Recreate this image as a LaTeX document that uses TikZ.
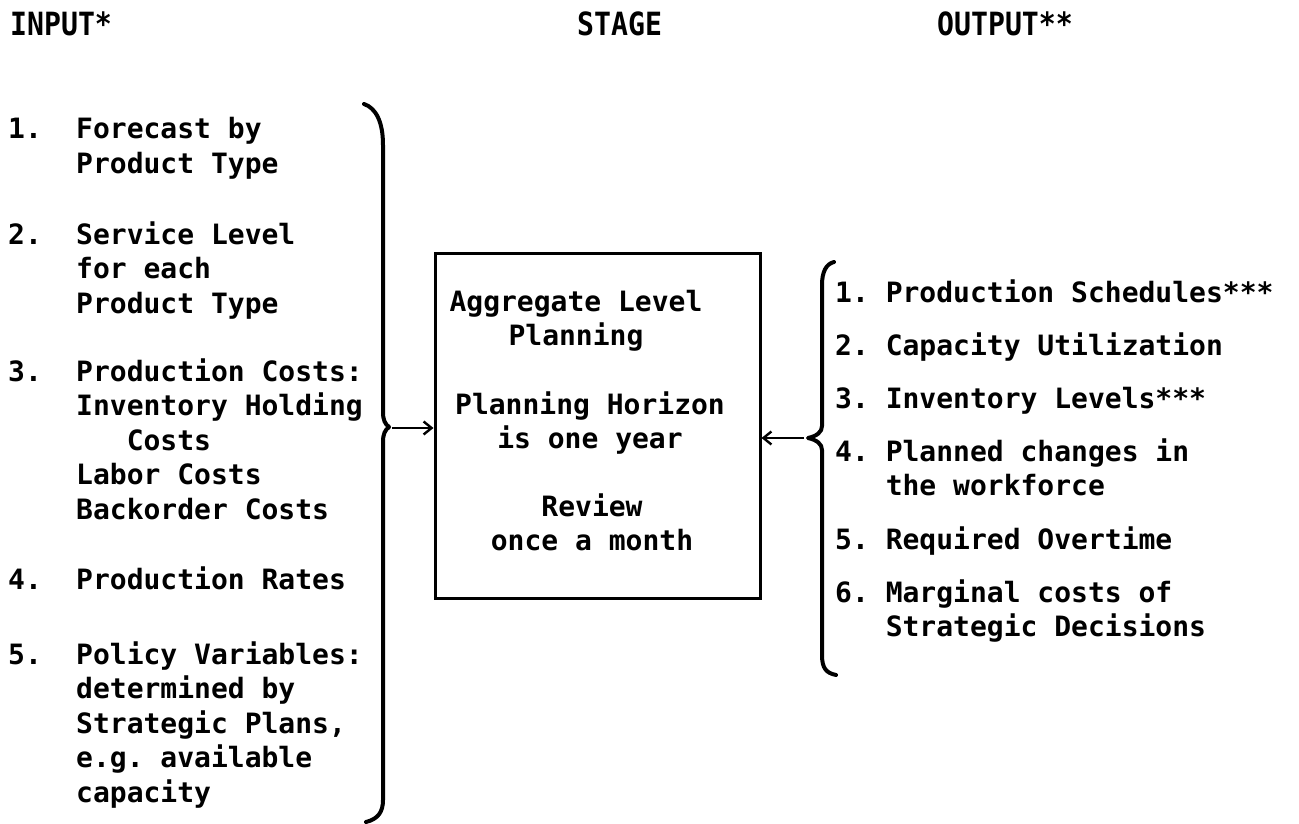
\documentclass[tikz,border=0pt]{standalone}
\usepackage{fontspec}
\usetikzlibrary{arrows.meta}
\newfontfamily\typer{DejaVu Sans Mono}
\newfontfamily\headface[FakeStretch=0.88]{DejaVu Sans Mono}
% typewriter spacing: every blank is one full character cell
\newcommand\cellspaces{\frenchspacing\spaceskip=\fontcharwd\font`M\relax\xspaceskip=\spaceskip}
% stacked typewritten lines, baseline on the first line
\newcommand\leftlines[1]{\begin{tabular}[t]{@{}l@{}}#1\end{tabular}}
\newcommand\midlines[1]{\begin{tabular}[t]{@{}c@{}}#1\end{tabular}}

\tikzset{
  head/.style={inner sep=0pt, anchor=base west,
               font=\headface\bfseries\fontsize{32}{36}\selectfont\cellspaces},
  body/.style={inner sep=0pt, anchor=base west,
               font=\typer\bfseries\fontsize{28}{34.5}\selectfont\cellspaces},
  boxtext/.style={inner sep=0pt, anchor=base,
               font=\typer\bfseries\fontsize{28}{34}\selectfont\cellspaces},
  brace/.style={line width=4pt, line cap=round, line join=round},
  feed/.style={line width=2.6pt, -{Straight Barb[length=8pt,width=13pt,line width=2.4pt]}},
}

\begin{document}
\begin{tikzpicture}[x=1pt, y=-1pt]
  \fill[white] (0,0) rectangle (1299,824);
  \useasboundingbox (0,0) rectangle (1299,824);

  % column headings
  \node[head] (hin)  at (10,36)  {INPUT*};
  \node[head] (hst)  at (577,36) {STAGE};
  \node[head] (hout) at (937,36) {OUTPUT**};

  % inputs
  \node[body] (n1) at (8,139) {1.};
  \node[body] (i1) at (76,139) {\leftlines{Forecast by\\Product Type}};
  \node[body] (n2) at (8,244) {2.};
  \node[body] (i2) at (76,244) {\leftlines{Service Level\\for each\\Product Type}};
  \node[body] (n3) at (8,381) {3.};
  \node[body] (i3) at (76,381) {\leftlines{Production Costs:\\Inventory Holding\\\hphantom{000}Costs\\Labor Costs\\Backorder Costs}};
  \node[body] (n4) at (8,589) {4.};
  \node[body] (i4) at (76,589) {Production Rates};
  \node[body] (n5) at (8,664) {5.};
  \node[body] (i5) at (76,664) {\leftlines{Policy Variables:\\determined by\\Strategic Plans,\\e.g. available\\capacity}};

  % input brace
  \draw[brace] (364,104) .. controls (376,108) and (383,122) .. (383,145)
    -- (383,412) .. controls (383,420) and (385,424) .. (389,427)
    .. controls (385,430) and (383,434) .. (383,442)
    -- (383,800) .. controls (383,812) and (378,819) .. (366,822);
  \coordinate (ltip) at (392,428);

  % planning stage
  \node[draw, line width=3pt, minimum width=325pt, minimum height=345pt, inner sep=0pt]
    (stage) at (597.5,425.5) {};
  \node[boxtext] (s1) at (576,311) {\midlines{Aggregate Level\\Planning}};
  \node[boxtext] (s2) at (590,414) {\midlines{Planning Horizon\\is one year}};
  \node[boxtext] (s3) at (592,516) {\midlines{Review\\once a month}};

  % outputs
  \node[body] (o1) at (835,302) {1. Production Schedules***};
  \node[body] (o2) at (835,355) {2. Capacity Utilization};
  \node[body] (o3) at (835,408) {3. Inventory Levels***};
  \node[body] (o4) at (835,461) {\leftlines{4. Planned changes in\\\hphantom{000}the workforce}};
  \node[body] (o5) at (835,549) {5. Required Overtime};
  \node[body] (o6) at (835,602) {\leftlines{6. Marginal costs of\\\hphantom{000}Strategic Decisions}};

  % output brace
  \draw[brace] (834,262) .. controls (826,264) and (822,272) .. (822,285)
    -- (822,426) .. controls (822,432) and (817,436) .. (808,438)
    .. controls (817,440) and (822,444) .. (822,450)
    -- (822,655) .. controls (822,668) and (826,673) .. (836,675);
  \coordinate (rtip) at (804,438);

  % connectors
  \draw[feed] (ltip) -- (stage.west |- ltip);
  \draw[feed] (rtip) -- (stage.east |- rtip);
\end{tikzpicture}
\end{document}
